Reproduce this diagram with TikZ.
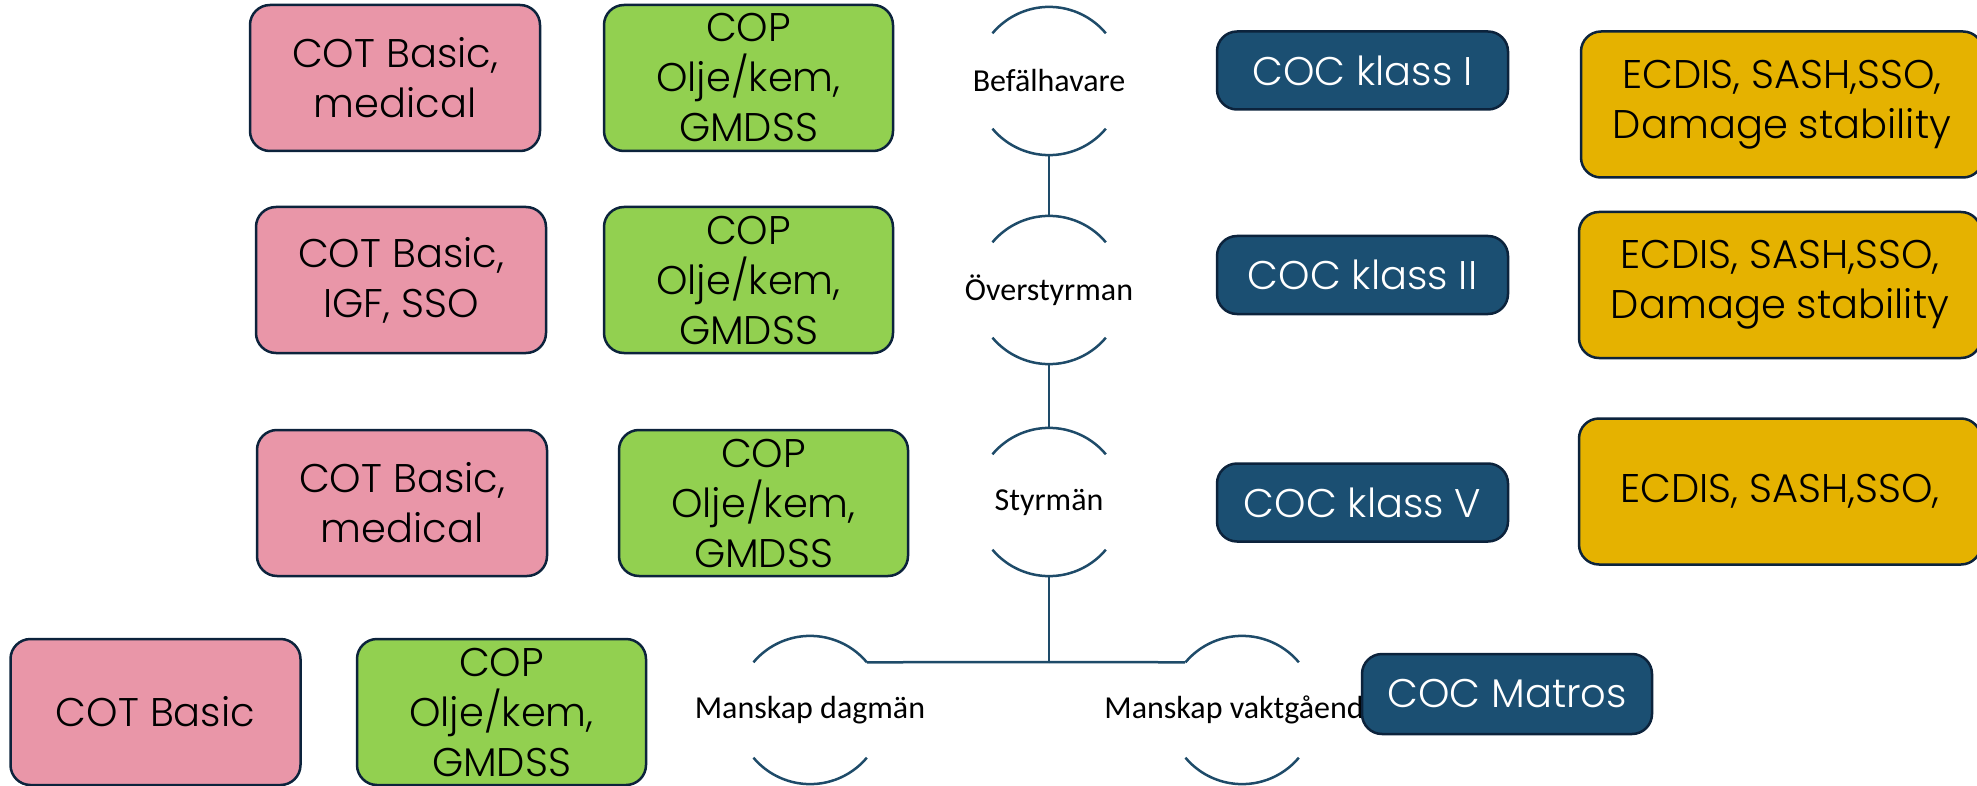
\documentclass[tikz,border=0pt]{standalone}
\usepackage{fontspec}
\setmainfont{Poppins}[UprightFont={* Light}]
\newfontfamily\rolefont{Carlito}
\definecolor{pinkbox}{RGB}{233,150,168}
\definecolor{greenbox}{RGB}{146,208,80}
\definecolor{goldbox}{RGB}{229,178,0}
\definecolor{cocbox}{RGB}{27,79,114}
\definecolor{edge}{RGB}{12,35,60}
\definecolor{conn}{RGB}{30,75,105}
\tikzset{
  box/.style={rounded corners=20pt, draw=edge, line width=2.5pt, align=center,
    inner sep=0pt, font=\fontsize{40}{50}\selectfont},
  pinkb/.style={box, fill=pinkbox, minimum width=290pt, minimum height=146pt},
  greenb/.style={box, fill=greenbox, minimum width=289pt, minimum height=146pt},
  goldb/.style={box, fill=goldbox, minimum width=402pt, minimum height=146pt},
  cocb/.style={box, fill=cocbox, text=white, minimum width=291pt, minimum height=78pt},
  role/.style={circle, minimum size=148pt, inner sep=0pt, draw=none},
  roletext/.style={font=\rolefont\fontsize{32}{36}\selectfont, inner sep=0pt},
  conline/.style={draw=conn, line width=2.5pt},
}
\newcommand{\rolearcs}[1]{%
  \draw[conline] (#1.40) arc[start angle=40, end angle=140, radius=74pt];
  \draw[conline] (#1.-40) arc[start angle=-40, end angle=-140, radius=74pt];
}
\begin{document}
\begin{tikzpicture}[x=1pt,y=-1pt]
\useasboundingbox (0,0) rectangle (1977,786);
\clip (0,0) rectangle (1977,786);

% role circles
\node[role] (b) at (1049,81) {};
\node[role] (o) at (1049,290) {};
\node[role] (s) at (1049,502) {};
\node[role] (d) at (810,710) {};
\node[role] (v) at (1242,710) {};
\rolearcs{b}
\rolearcs{o}
\rolearcs{s}
\rolearcs{d}
\rolearcs{v}
\node[roletext] (bt) at (b) {Befälhavare};
\node[roletext] (ot) at (o) {Överstyrman};
\node[roletext] (st) at (s) {Styrmän};
\node[roletext] (dt) at (d) {Manskap dagmän};
\node[roletext] (vt) at (v) {Manskap vaktgående};

% connectors
\coordinate (j) at (1049,662);
\draw[conline] (b.south) -- (o.north);
\draw[conline] (o.south) -- (s.north);
\draw[conline] (s.south) -- (j);
\draw[conline] (j) -- (d.40);
\draw[conline] (j) -- (v.140);

% row 1
\node[pinkb] (p1) at (395,78) {COT Basic,\\medical};
\node[greenb] (g1) at (748.5,78) {COP\\Olje/kem,\\GMDSS};
\node[cocb] (c1) at (1362.5,70.5) {COC klass I};
\node[goldb] (e1) at (1782,104.5) {ECDIS, SASH,SSO,\\Damage stability};

% row 2
\node[pinkb] (p2) at (401,280) {COT Basic,\\IGF, SSO};
\node[greenb] (g2) at (748.5,280) {COP\\Olje/kem,\\GMDSS};
\node[cocb] (c2) at (1362.5,275) {COC klass II};
\node[goldb] (e2) at (1780,285) {ECDIS, SASH,SSO,\\Damage stability};

% row 3
\node[pinkb] (p3) at (402,503) {COT Basic,\\medical};
\node[greenb] (g3) at (763.5,503) {COP\\Olje/kem,\\GMDSS};
\node[cocb] (c3) at (1362.5,502.5) {COC klass V};
\node[goldb] (e3) at (1780,491.5) {ECDIS, SASH,SSO,};

% row 4
\node[pinkb] (p4) at (155.5,712) {COT Basic};
\node[greenb] (g4) at (501.5,712) {COP\\Olje/kem,\\GMDSS};
\node[cocb, minimum height=80pt, minimum width=290pt] (cm) at (1507,694) {COC Matros};
\end{tikzpicture}
\end{document}
